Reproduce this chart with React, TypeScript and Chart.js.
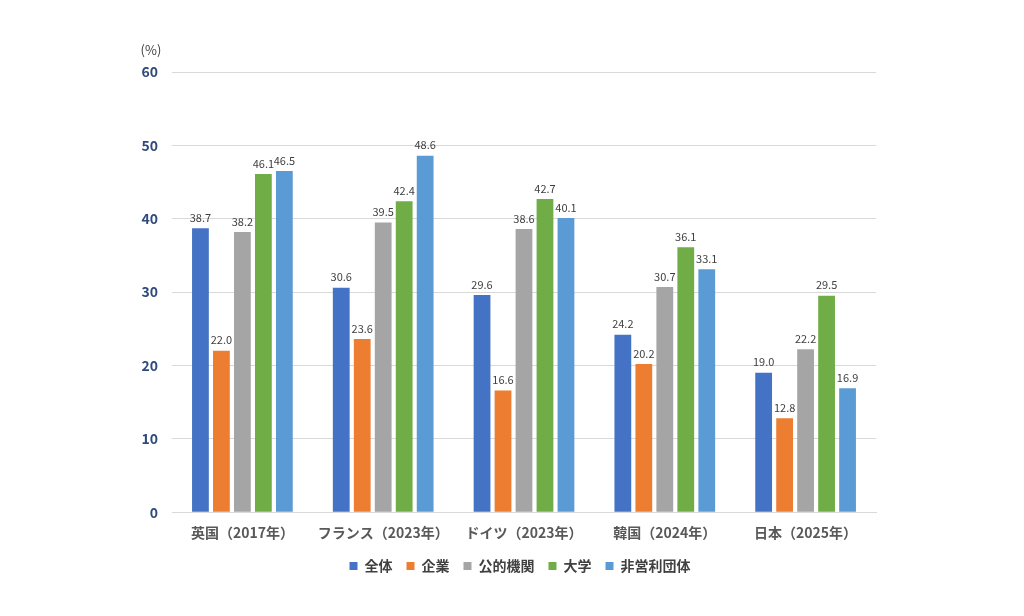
import { useEffect, useRef } from "react";
import { Chart, registerables } from "chart.js";

Chart.register(...registerables);

const categories = ["英国（2017年）", "フランス（2023年）", "ドイツ（2023年）", "韓国（2024年）", "日本（2025年）"];
const seriesNames = ["全体", "企業", "公的機関", "大学", "非営利団体"];
const zentai = [38.7, 30.6, 29.6, 24.2, 19.0];
const kigyo = [22.0, 23.6, 16.6, 20.2, 12.8];
const koteki = [38.2, 39.5, 38.6, 30.7, 22.2];
const daigaku = [46.1, 42.4, 42.7, 36.1, 29.5];
const hieiri = [46.5, 48.6, 40.1, 33.1, 16.9];
const yTicks = [0, 10, 20, 30, 40, 50, 60];

const colors = ["#4472C4", "#ED7D31", "#A5A5A5", "#70AD47", "#5B9BD5"];
const FONT = "'Noto Sans CJK JP', 'Noto Sans', sans-serif";

// value labels above each bar
const barLabels = {
  id: "barLabels",
  afterDatasetsDraw(chart: any) {
    const { ctx } = chart;
    ctx.save();
    ctx.font = `11px ${FONT}`;
    ctx.fillStyle = "#404040";
    ctx.textAlign = "center";
    ctx.textBaseline = "bottom";
    chart.data.datasets.forEach((ds: any, i: number) => {
      const meta = chart.getDatasetMeta(i);
      meta.data.forEach((bar: any, j: number) => {
        ctx.fillText(ds.data[j].toFixed(1), bar.x, bar.y - 5);
      });
    });
    ctx.restore();
  },
};

// "(%)" unit above the y axis
const unitLabel = {
  id: "unitLabel",
  afterDraw(chart: any) {
    const { ctx, chartArea } = chart;
    ctx.save();
    ctx.font = `13px ${FONT}`;
    ctx.fillStyle = "#404040";
    ctx.textAlign = "center";
    ctx.textBaseline = "middle";
    ctx.fillText("(%)", chartArea.left - 21, chartArea.top - 22);
    ctx.restore();
  },
};

// centre the legend under the plot area rather than the whole canvas
const legendShift = {
  id: "legendShift",
  afterLayout(chart: any) {
    const legend = chart.legend;
    if (!legend) return;
    const mid = (chart.chartArea.left + chart.chartArea.right) / 2;
    const dx = mid - (legend.left + legend.right) / 2 - 4;
    legend.left += dx;
    legend.right += dx;
  },
};

const App = () => {
  const chartRef = useRef<HTMLCanvasElement | null>(null);
  const chartInstance = useRef<Chart | null>(null);

  useEffect(() => {
    document.body.style.margin = "0";
    if (!chartRef.current) return;
    if (chartInstance.current) chartInstance.current.destroy();

    const series = [zentai, kigyo, koteki, daigaku, hieiri];
    chartInstance.current = new Chart(chartRef.current, {
      type: "bar",
      data: {
        labels: categories,
        datasets: series.map((data, i) => ({
          label: seriesNames[i],
          data,
          backgroundColor: colors[i],
          categoryPercentage: 0.745,
          barPercentage: 0.8,
        })),
      },
      options: {
        animation: false,
        responsive: true,
        maintainAspectRatio: false,
        layout: { padding: { left: 120, right: 148, top: 72, bottom: 33 } },
        scales: {
          x: {
            grid: { display: false },
            border: { color: "#D9D9D9" },
            ticks: {
              color: "#595959",
              font: { family: FONT, size: 14, weight: "bold" },
              padding: 4,
            },
          },
          y: {
            min: 0,
            max: 60,
            afterBuildTicks: (axis: any) => {
              axis.ticks = yTicks.map((v) => ({ value: v }));
            },
            afterFit: (axis: any) => {
              axis.width = 52;
            },
            grid: { color: "#D9D9D9", drawTicks: false },
            border: { display: false },
            ticks: {
              color: "#2F4B7C",
              font: { family: FONT, size: 14, weight: "bold" },
              padding: 14,
            },
          },
        },
        plugins: {
          legend: {
            position: "bottom",
            labels: {
              color: "#404040",
              font: { family: FONT, size: 14, weight: "bold" },
              boxWidth: 8,
              boxHeight: 8,
              padding: 14,
            },
          },
          tooltip: { enabled: false },
        },
      },
      plugins: [barLabels, unitLabel, legendShift],
    });

    return () => {
      if (chartInstance.current) {
        chartInstance.current.destroy();
        chartInstance.current = null;
      }
    };
  }, []);

  return (
    <div style={{ width: 1024, height: 616, position: "relative" }}>
      <canvas ref={chartRef} />
    </div>
  );
};

export default App;
